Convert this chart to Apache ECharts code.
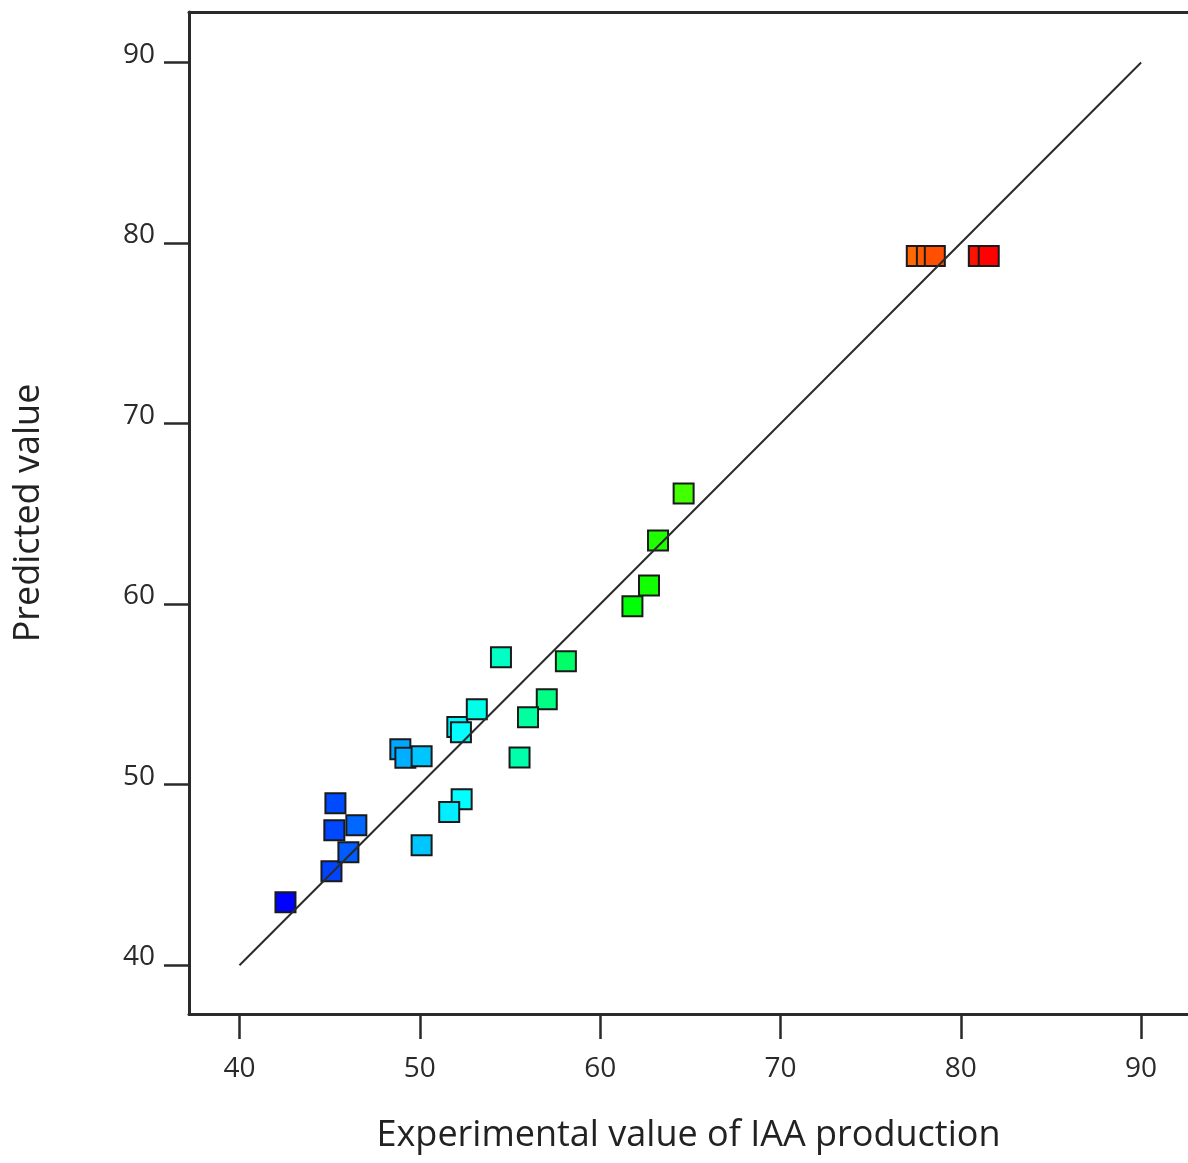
<!DOCTYPE html>
<html style="height: 100%">
<head>
  <meta charset="utf-8">
</head>
<body style="height: 100%; margin: 0; background: #fff">
<div id="chart" style="width: 1188px; height: 1163px"></div>
<script src="https://cdn.jsdelivr.net/npm/echarts@6/dist/echarts.min.js"></script>
<script>
  // experimental (x) vs predicted (y) values
  var expValues  = [42.55, 45.10, 46.04, 45.32, 45.26, 46.48, 48.92, 49.20, 50.10, 52.08,
                    52.28, 53.16, 54.50, 58.10, 57.04, 56.00, 55.53, 52.32, 51.63, 50.10,
                    64.63, 63.21, 62.71, 61.79, 77.56, 78.12, 78.56, 81.00, 81.55];
  var predValues = [43.49, 45.20, 46.26, 48.97, 47.48, 47.76, 51.97, 51.50, 51.58, 53.19,
                    52.90, 54.18, 57.06, 56.84, 54.74, 53.74, 51.51, 49.20, 48.49, 46.65,
                    66.13, 63.53, 61.04, 59.89, 79.28, 79.28, 79.28, 79.28, 79.28];
  var tickValues = [40, 50, 60, 70, 80, 90];
  var diagonal = [[40, 40], [90, 90]];

  var points = [];
  for (var i = 0; i < expValues.length; i++) {
    points.push([expValues[i], predValues[i]]);
  }

  var font = '"Open Sans", "Noto Sans", sans-serif';
  var frame = {color: '#2a2a2a', width: 3};

  var myChart = echarts.init(document.getElementById('chart'));
  var option = {
    animation: false,
    backgroundColor: '#fff',
    grid: {left: 189, top: 12, right: 0, bottom: 149},
    visualMap: {
      show: false,
      type: 'continuous',
      dimension: 0,
      seriesIndex: 0,
      min: 42.5,
      max: 81.6,
      inRange: {color: ['#0000ff', '#00ffff', '#00ff00', '#ffff00', '#ff0000']}
    },
    xAxis: [{
      type: 'value',
      min: 37.2,
      max: 92.6,
      name: 'Experimental value of IAA production',
      nameLocation: 'middle',
      nameGap: 104,
      nameTextStyle: {fontFamily: font, fontSize: 36, color: '#222'},
      axisLine: {lineStyle: frame},
      axisTick: {customValues: tickValues, length: 25, lineStyle: {color: '#2a2a2a', width: 2.5}},
      axisLabel: {customValues: tickValues, margin: 41, fontFamily: font, fontSize: 28, color: '#2a2a2a'},
      splitLine: {show: false}
    }, {
      type: 'value',
      position: 'top',
      min: 37.2,
      max: 92.6,
      axisLine: {lineStyle: frame},
      axisTick: {show: false},
      axisLabel: {show: false},
      splitLine: {show: false}
    }],
    yAxis: {
      type: 'value',
      min: 37.3,
      max: 92.8,
      name: 'Predicted value',
      nameLocation: 'middle',
      nameGap: 142,
      nameTextStyle: {fontFamily: font, fontSize: 36, color: '#222'},
      axisLine: {lineStyle: frame},
      axisTick: {customValues: tickValues, length: 25, lineStyle: {color: '#2a2a2a', width: 2.5}},
      axisLabel: {customValues: tickValues, margin: 34, fontFamily: font, fontSize: 28, color: '#2a2a2a',
                  verticalAlign: 'bottom', lineHeight: 16},
      splitLine: {show: false}
    },
    series: [{
      type: 'scatter',
      data: points,
      symbol: 'rect',
      symbolSize: 20,
      itemStyle: {opacity: 1, borderColor: '#1a1a1a', borderWidth: 2}
    }, {
      type: 'line',
      data: diagonal,
      symbol: 'none',
      silent: true,
      z: 5,
      lineStyle: {color: '#2a2a2a', width: 2}
    }]
  };
  myChart.setOption(option);
</script>
</body>
</html>
